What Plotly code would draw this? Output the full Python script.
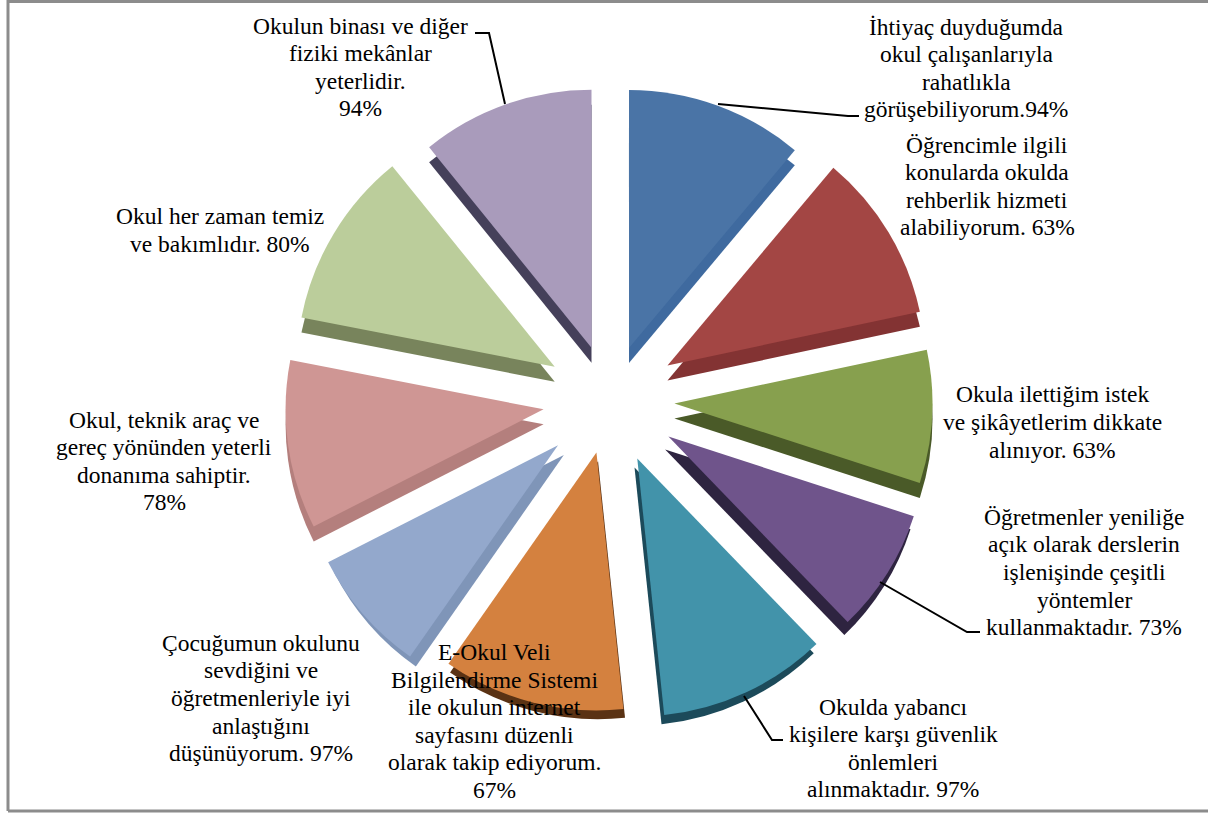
import plotly.graph_objects as go

W = 1208
H = 814
LINE_STEP = 27.6

# Slice sizes (degrees of the ring), clockwise from 12 o'clock
slice_sizes = [40, 38, 30, 28, 38, 41, 28, 38, 40, 39]
slice_pull = [0.215, 0.26, 0.25, 0.267, 0.25, 0.21, 0.267, 0.26, 0.25, 0.215]
wall_pull = [0.215, 0.26, 0.25, 0.252, 0.225, 0.185, 0.237, 0.26, 0.25, 0.215]

top_colors = ['#4a74a6', '#a34644', '#87a04e', '#6f548b', '#4293aa',
              '#d4813f', '#93a8cc', '#cf9694', '#bbcd9b', '#a99bbb']
wall_colors = ['#3f6a9f', '#833333', '#4a5a28', '#2e2440', '#1c4a5a',
               '#5a3214', '#7f95b8', '#b47f7d', '#78845c', '#45405a']

labels = [
    'İhtiyaç duyduğumda<br>okul çalışanlarıyla<br>rahatlıkla<br>görüşebiliyorum.94%',
    'Öğrencimle ilgili<br>konularda okulda<br>rehberlik hizmeti<br>alabiliyorum. 63%',
    'Okula ilettiğim istek<br>ve şikâyetlerim dikkate<br>alınıyor. 63%',
    'Öğretmenler yeniliğe<br>açık olarak derslerin<br>işlenişinde çeşitli<br>yöntemler<br>kullanmaktadır. 73%',
    'Okulda yabancı<br>kişilere karşı güvenlik<br>önlemleri<br>alınmaktadır. 97%',
    'E-Okul Veli<br>Bilgilendirme Sistemi<br>ile okulun internet<br>sayfasını düzenli<br>olarak takip ediyorum.<br>67%',
    'Çocuğumun okulunu<br>sevdiğini ve<br>öğretmenleriyle iyi<br>anlaştığını<br>düşünüyorum. 97%',
    'Okul, teknik araç ve<br>gereç yönünden yeterli<br>donanıma sahiptir.<br>78%',
    'Okul her zaman temiz<br>ve bakımlıdır. 80%',
    'Okulun binası ve diğer<br>fiziki mekânlar<br>yeterlidir.<br>94%',
]
label_x = [966, 987, 1052, 1084, 893, 494, 261, 164, 220, 360]
label_y = [68, 186, 422, 572, 748, 721, 698, 461, 230, 67]

leaders = [
    [(718, 104), (848, 116), (859, 116)],
    [(880, 582), (967, 632), (980, 632)],
    [(744, 696), (772, 740), (783, 740)],
    [(505, 104), (489, 33), (475, 33)],
]


def px_x(x):
    return x / W


def px_y(y):
    return 1 - y / H


def pie_domain(pull, dy=0):
    half = 258 * (1 + max(pull))
    cx, cy = 610, 400 + dy
    return dict(x=[px_x(cx - half), px_x(cx + half)],
                y=[px_y(cy + half), px_y(cy - half)])


def add_pie(fig, colors, pull, dy=0):
    fig.add_trace(go.Pie(
        values=slice_sizes,
        sort=False,
        direction='clockwise',
        rotation=0,
        pull=pull,
        domain=pie_domain(pull, dy),
        marker=dict(colors=colors, line=dict(width=0)),
        textinfo='none',
        hoverinfo='skip',
        showlegend=False,
    ))


fig = go.Figure()
# Koyu alt kopya = 3B yan duvar
add_pie(fig, wall_colors, wall_pull, dy=15)
add_pie(fig, top_colors, slice_pull)

# Satır aralığı referansta daha dar, o yüzden her satır ayrı
for text, x, y in zip(labels, label_x, label_y):
    lines = text.split('<br>')
    for i, line in enumerate(lines):
        fig.add_annotation(
            text=line, x=px_x(x), y=px_y(y + (i - (len(lines) - 1) / 2) * LINE_STEP),
            xref='paper', yref='paper',
            xanchor='center', yanchor='middle', align='center', showarrow=False,
            font=dict(family='Liberation Serif', size=23.5, color='black'),
        )

shapes = []
for pts in leaders:
    path = 'M ' + ' L '.join(f'{px_x(a):.5f} {px_y(b):.5f}' for a, b in pts)
    shapes.append(dict(type='path', path=path, xref='paper', yref='paper',
                       line=dict(color='black', width=2)))
# Çerçeve
frame = f'M {px_x(8):.5f} {px_y(811):.5f} L {px_x(8):.5f} {px_y(1.5):.5f} L 1 {px_y(1.5):.5f} M {px_x(8):.5f} {px_y(811):.5f} L 1 {px_y(811):.5f}'
shapes.append(dict(type='path', path=frame, xref='paper', yref='paper',
                   line=dict(color='#8c8c8c', width=3)))

fig.update_layout(
    width=W,
    height=H,
    margin=dict(l=0, r=0, t=0, b=0),
    paper_bgcolor='white',
    shapes=shapes,
)

fig.write_html('out.html', config=dict(displayModeBar=False),
               post_script="document.body.style.margin='0';document.body.style.overflow='hidden';")
